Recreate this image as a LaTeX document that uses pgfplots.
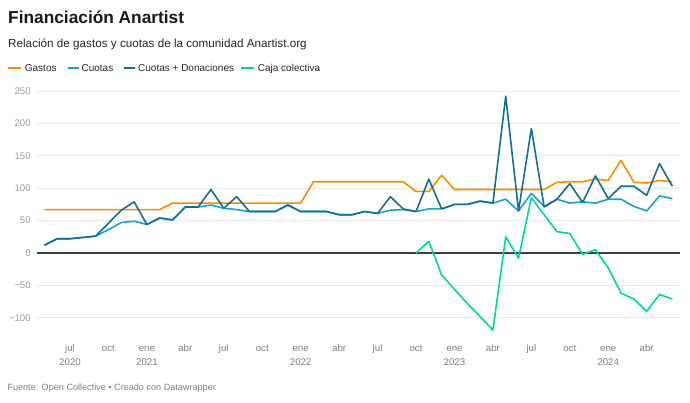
\documentclass[border=0pt]{standalone}
\usepackage{fontspec}
\setmainfont{Liberation Sans}
\usepackage{pgfplots}
\pgfplotsset{compat=1.18}
\usepackage{pgfplotstable}
\definecolor{cgastos}{HTML}{FA8C00}
\definecolor{ccuotas}{HTML}{18A1CD}
\definecolor{ccd}{HTML}{136F95}
\definecolor{ccaja}{HTML}{00D6A3}
\definecolor{cgrid}{HTML}{E6E6E6}
\definecolor{cylab}{HTML}{9A9A9A}
\definecolor{cxlab}{HTML}{808080}
% idx 0 = mayo 2020, monthly
\pgfplotstableread{
idx gastos cuotas cd caja
0 67 12 12 nan
1 67 22 22 nan
2 67 22 22 nan
3 67 24 24 nan
4 67 26 26 nan
5 67 36 46 nan
6 67 47 66 nan
7 67 49 79 nan
8 67 44 44 nan
9 67 54 54 nan
10 77 51 51 nan
11 77 71 71 nan
12 77 71 71 nan
13 77 74 98 nan
14 77 69 69 nan
15 77 67 87 nan
16 77 64 64 nan
17 77 64 64 nan
18 77 64 64 nan
19 77 74 74 nan
20 77 64 64 nan
21 110 64 64 nan
22 110 64 64 nan
23 110 59 59 nan
24 110 59 59 nan
25 110 64 64 nan
26 110 61 61 nan
27 110 66 87 nan
28 110 67 68 nan
29 95 64 64 0
30 95 68 114 18
31 120 68 68 -34
32 98 75 75 -56
33 98 75 75 -78
34 98 80 80 -98
35 98 77 77 -119
36 98 83 242 25
37 98 65 65 -8
38 98 92 192 85
39 98 72 71 59
40 109 83 83 33
41 110 77 107 30
42 110 79 78 -2
43 114 77 119 5
44 112 83 84 -23
45 143 83 103 -62
46 109 72 103 -71
47 108 65 89 -90
48 112 88 138 -64
49 110 84 103 -71
}\datatable
\begin{document}
\begin{tikzpicture}[x=1pt,y=1pt]
\useasboundingbox (0,0) rectangle (690,403);
\begin{axis}[
  at={(36.7pt,69pt)}, anchor=south west,
  scale only axis, width=643.3pt, height=243pt,
  xmin=-0.6, xmax=49.6, ymin=-125, ymax=250,
  axis line style={draw=none},
  tick style={draw=none},
  major tick length=0pt,
  ymajorgrids, grid style={cgrid, line width=0.9pt},
  ytick={-100,-50,50,100,150,200,250},
  yticklabels={−100,−50,50,100,150,200,250},
  extra y ticks={0}, extra y tick labels={0},
  extra y tick style={grid style={color=black!75, line width=1.3pt}},
  yticklabel style={anchor=east, xshift=-2.5pt, text=cylab, font=\fontsize{9.6}{11}\selectfont},
  xtick={2,5,8,11,14,17,20,23,26,29,32,35,38,41,44,47},
  xticklabels={jul,oct,ene,abr,jul,oct,ene,abr,jul,oct,ene,abr,jul,oct,ene,abr},
  xticklabel style={anchor=base, yshift=-18pt, text=cxlab, font=\fontsize{9.7}{11}\selectfont},
  extra x ticks={2,8,20,32,44},
  extra x tick labels={2020,2021,2022,2023,2024},
  extra x tick style={xticklabel style={yshift=-14pt}, xmajorgrids=false},
  every axis plot/.append style={line width=1.6pt, mark=none, line join=round},
]
\addplot[cgastos] table[x=idx, y=gastos] {\datatable};
\addplot[ccuotas] table[x=idx, y=cuotas] {\datatable};
\addplot[ccd] table[x=idx, y=cd] {\datatable};
\addplot[ccaja] table[x=idx, y=caja] {\datatable};
\end{axis}
% titles
\node[anchor=base west, inner sep=0pt, text=black!90] at (8,379.5) {\fontsize{17.3}{20}\selectfont\bfseries Financiación Anartist};
\node[anchor=base west, inner sep=0pt, text=black!85] at (8,355.7) {\fontsize{11.7}{14}\selectfont Relación de gastos y cuotas de la comunidad Anartist.org};
% legend
\begin{scope}[line width=1.8pt]
\draw[cgastos] (8.3,334.7) -- (21,334.7);
\node[anchor=base west, inner sep=0pt, text=black!85] at (24,331.5) {\fontsize{10}{12}\selectfont Gastos};
\draw[ccuotas] (67.5,334.7) -- (78.5,334.7);
\node[anchor=base west, inner sep=0pt, text=black!85] at (80.7,331.5) {\fontsize{10}{12}\selectfont Cuotas};
\draw[ccd] (123.5,334.7) -- (134.5,334.7);
\node[anchor=base west, inner sep=0pt, text=black!85] at (137.3,331.5) {\fontsize{10}{12}\selectfont Cuotas + Donaciones};
\draw[ccaja] (241,334.7) -- (254,334.7);
\node[anchor=base west, inner sep=0pt, text=black!85] at (257,331.5) {\fontsize{10}{12}\selectfont Caja colectiva};
\end{scope}
% footer
\node[anchor=base west, inner sep=0pt, text=black!50] at (7.3,12) {\fontsize{9.1}{11}\selectfont Fuente: Open Collective • Creado con Datawrapper};
\end{tikzpicture}
\end{document}
